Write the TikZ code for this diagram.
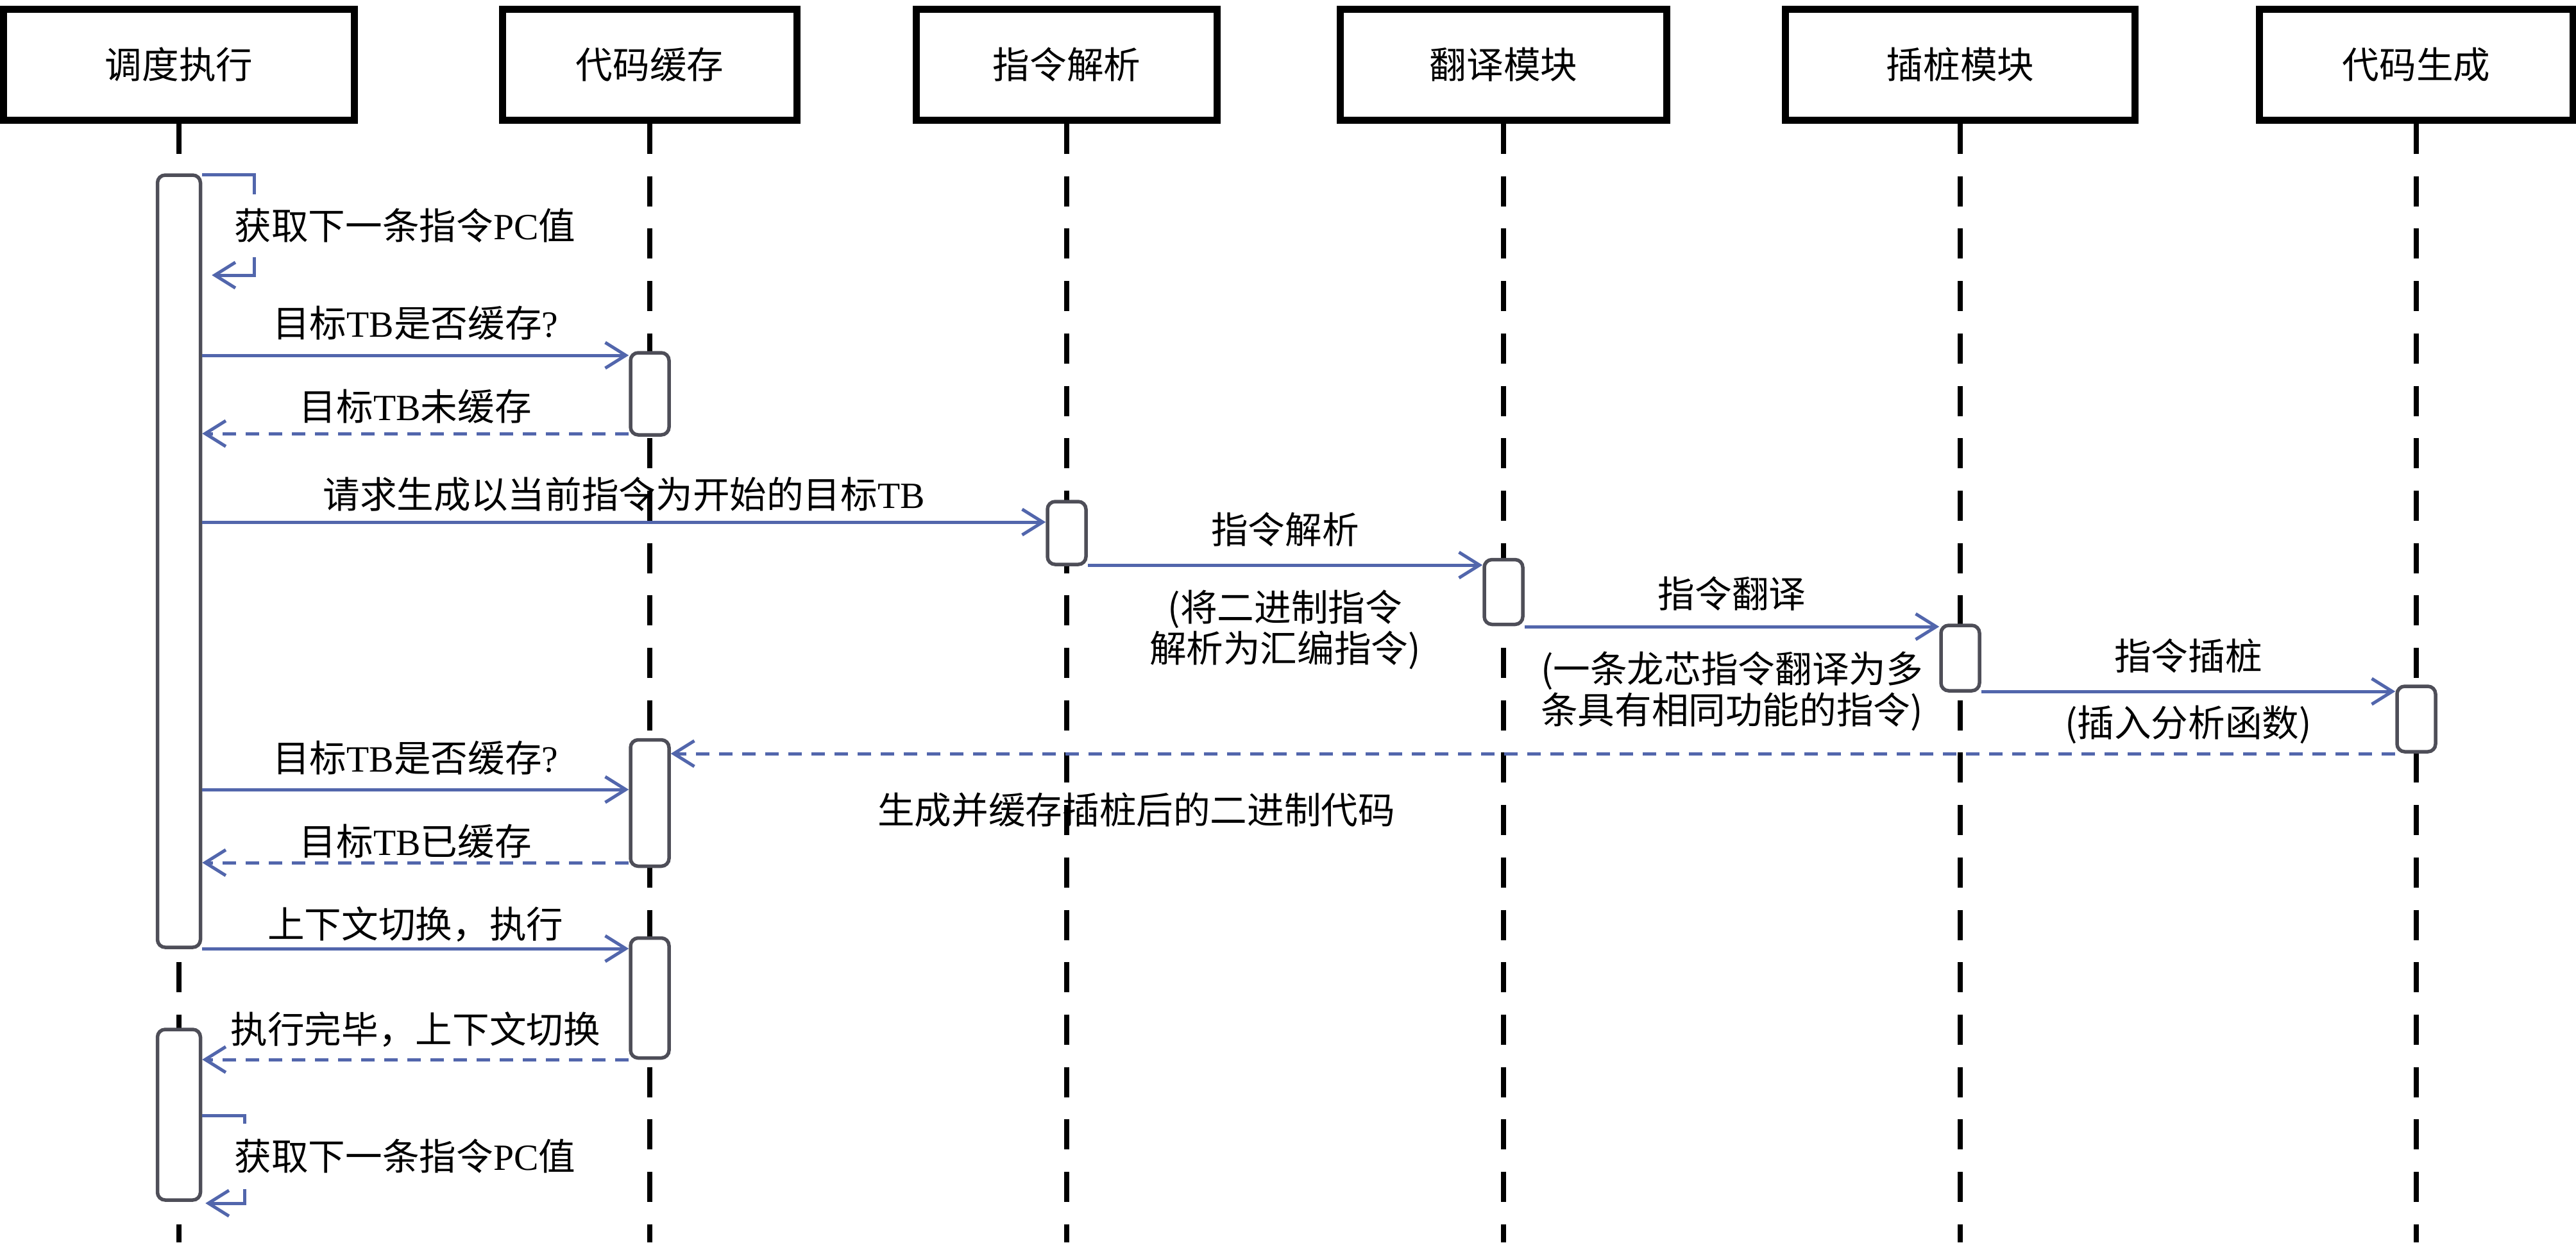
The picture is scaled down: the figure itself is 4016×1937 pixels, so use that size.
\documentclass[tikz,border=0pt]{standalone}
\usepackage{fontspec}
\setmainfont{Noto Sans CJK SC}
\newfontfamily\lat{Liberation Serif}
\usetikzlibrary{arrows.meta}
\definecolor{msgblue}{RGB}{82,102,172}
\definecolor{actgray}{RGB}{78,78,88}
\tikzset{
    HD/.style ={rectangle,minimum height=17.3mm,draw,line width=1.1mm,fill=white},
    LL/.style ={line width=0.8mm,dash pattern=on 4.7mm off 3.47mm},
    AC/.style ={rectangle,rounded corners=1.2mm,draw=actgray,line width=0.55mm,fill=white,minimum width=6mm,inner sep=0pt},
    MS/.style ={msgblue,line width=0.5mm,-{Straight Barb[length=3.2mm,width=4mm]}},
    RT/.style ={MS,dash pattern=on 2.1mm off 1.5mm},
    LB/.style ={midway,yshift=#1,text=black},
    LB/.default=4.7mm,
    SL/.style ={fill=white,inner xsep=1mm,anchor=west}}

\begin{document}
\begin{tikzpicture}[x=0.1mm,y=-0.1mm,font=\fontsize{16.4}{16}\selectfont]
    \useasboundingbox (0,0) rectangle (4016,1937);
    % header boxes
    \node[HD,minimum width=54.7mm](h1) at(279,101){调度执行};
    \node[HD,minimum width=45.9mm](h2) at(1013,101){代码缓存};
    \node[HD,minimum width=46.9mm](h3) at(1663,101){指令解析};
    \node[HD,minimum width=50.9mm](h4) at(2344,101){翻译模块};
    \node[HD,minimum width=54.5mm](h5) at(3056,101){插桩模块};
    \node[HD,minimum width=48.9mm](h6) at(3767,101){代码生成};
    \foreach \i in {1,...,6}
        \draw[LL] (h\i.south) -- (h\i.south |- 0,1937);
    % activations
    \node[AC,minimum width=6.7mm,minimum height=120.4mm](a1) at(279,875){};
    \node[AC,minimum width=6.7mm,minimum height=26.6mm](a1b) at(279,1738){};
    \node[AC,minimum height=12.8mm](a2) at(1013,614){};
    \node[AC,minimum height=19.7mm](a2b) at(1013,1252){};
    \node[AC,minimum height=18.7mm](a2c) at(1013,1556){};
    \node[AC,minimum height=9.8mm](a3) at(1663,831){};
    \node[AC,minimum height=10.1mm](a4) at(2344,923){};
    \node[AC,minimum height=10.2mm](a5) at(3056,1026){};
    \node[AC,minimum height=10.2mm](a6) at(3767,1121){};
    % messages
    \draw[MS,shorten >=1.5mm] (a1.east |- 0,272) -| (396,429) -- (a1.east |- 0,429);
    \node[SL,inner ysep=2.2mm](s1) at(355,352){获取下一条指令{\lat PC}值};
    \draw[MS] (a1.east |- 0,554) -- (a2.west |- 0,554)
        node[LB=5mm]{目标{\lat TB}是否缓存{\lat ?}};
    \draw[RT] (a2.west |- 0,676) -- (a1.east |- 0,676)
        node[LB=4.2mm]{目标{\lat TB}未缓存};
    \draw[MS] (a1.east |- 0,814) -- (a3.west |- 0,814)
        node[LB=4.3mm]{请求生成以当前指令为开始的目标{\lat TB}};
    \draw[MS] (a3.east |- 0,881) -- (a4.west |- 0,881)
        node[LB=5.5mm]{指令解析}
        node[LB=-10.1mm,align=center]{(将二进制指令\\解析为汇编指令)};
    \draw[MS] (a4.east |- 0,977) -- (a5.west |- 0,977)
        node[LB=5.1mm]{指令翻译}
        node[LB=-10.1mm,align=center]{(一条龙芯指令翻译为多\\条具有相同功能的指令)};
    \draw[MS] (a5.east |- 0,1078) -- (a6.west |- 0,1078)
        node[LB=5.5mm]{指令插桩}
        node[LB=-5.2mm]{(插入分析函数)};
    \draw[RT] (a6.west |- 0,1175) -- (a2b.east |- 0,1175)
        node[LB=-8.8mm,pos=0.73]{生成并缓存插桩后的二进制代码};
    \draw[MS] (a1.east |- 0,1231) -- (a2b.west |- 0,1231)
        node[LB=4.9mm]{目标{\lat TB}是否缓存{\lat ?}};
    \draw[RT] (a2b.west |- 0,1345) -- (a1.east |- 0,1345)
        node[LB=3.3mm]{目标{\lat TB}已缓存};
    \draw[MS] (a1.east |- 0,1479) -- (a2c.west |- 0,1479)
        node[LB=3.8mm]{上下文切换，执行};
    \draw[RT] (a2c.west |- 0,1652) -- (a1b.east |- 0,1652)
        node[LB=4.7mm]{执行完毕，上下文切换};
    \draw[MS,shorten >=0.5mm] (a1b.east |- 0,1739) -| (381,1876) -- (a1b.east |- 0,1876);
    \node[SL,inner ysep=2.4mm](s2) at(355,1803){获取下一条指令{\lat PC}值};
\end{tikzpicture}
\end{document}
